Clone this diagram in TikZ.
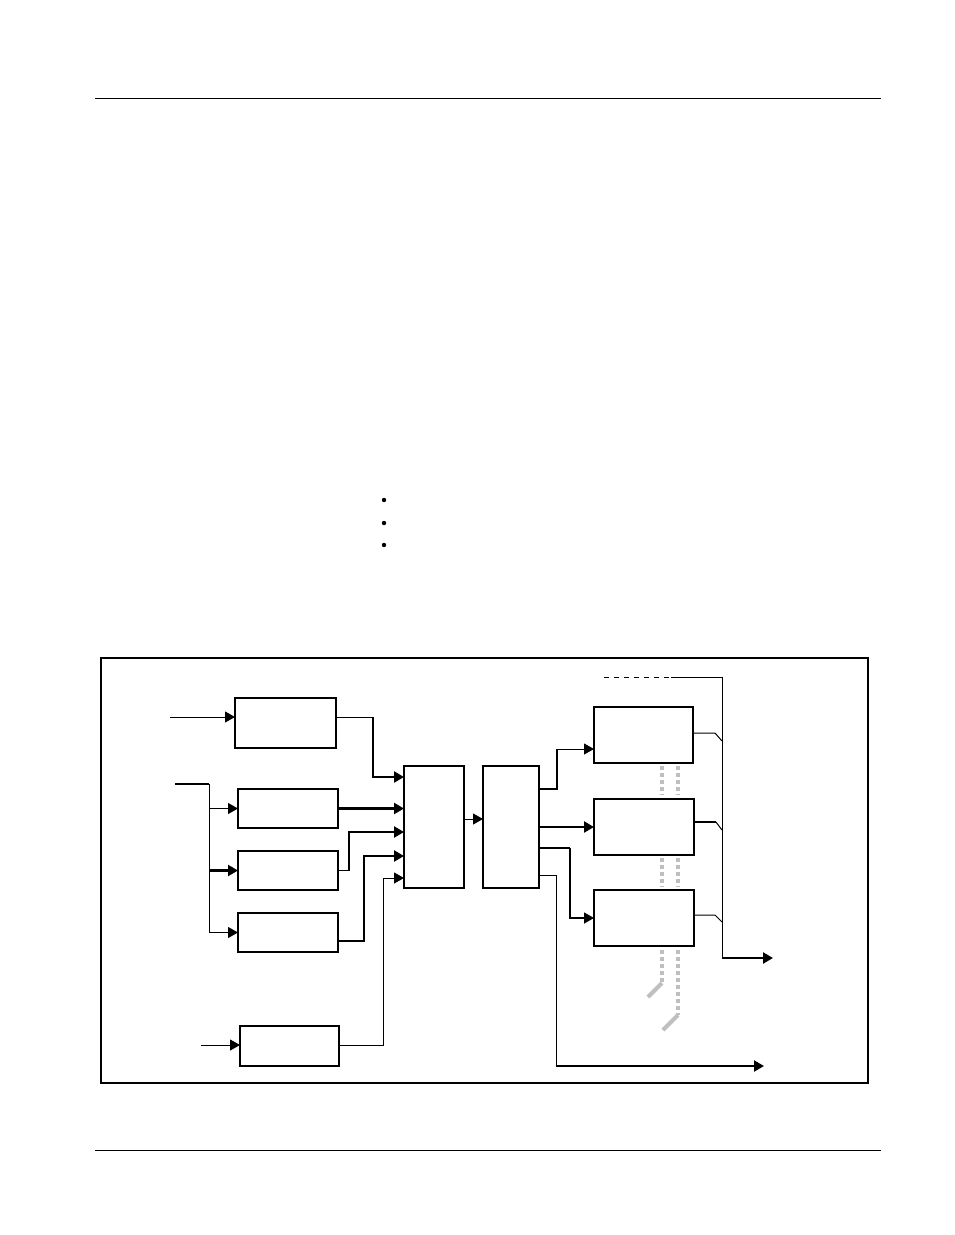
\documentclass[tikz,border=0pt]{standalone}
\usetikzlibrary{arrows.meta}
\begin{document}
\begin{tikzpicture}[x=1pt,y=-1pt,
 blk/.style={draw, line width=2pt, inner sep=0pt, outer sep=0pt, anchor=north west, fill=white},
 thinln/.style={line width=1pt},
 thkln/.style={line width=2.2pt},
 arr/.style={-{Triangle[length=10pt,width=11pt]}},
 graydash/.style={draw=black!25, line width=4pt, dash pattern=on 4pt off 3pt},
 graysolid/.style={draw=black!25, line width=4pt}
]
\useasboundingbox (0,0) rectangle (954,1235);
% page rules
\coordinate (hl) at (95,98); \coordinate (hr) at (881,98);
\coordinate (fl) at (95,1150); \coordinate (fr) at (881,1150);
\draw[line width=1pt] (hl) -- (hr);
\draw[line width=1pt] (fl) -- (fr);
% bullets
\fill (384,500) circle (2.2);
\fill (384,523) circle (2.2);
\fill (384,545) circle (2.2);
% frame
\draw[line width=1.4pt] (101,658) rectangle (868,1083);
% boxes
\node[blk, minimum width=101pt, minimum height=50pt] (A) at (235,698) {};
\node[blk, minimum width=100pt, minimum height=39pt] (B) at (238,789) {};
\node[blk, minimum width=100pt, minimum height=39pt] (C) at (238,851) {};
\node[blk, minimum width=100pt, minimum height=39pt] (D) at (238,913) {};
\node[blk, minimum width=99pt, minimum height=40pt] (E) at (240,1026) {};
\node[blk, minimum width=60pt, minimum height=122pt] (F) at (404,766) {};
\node[blk, line width=1.5pt, minimum width=56pt, minimum height=122pt] (G) at (483,766) {};
\node[blk, minimum width=99pt, minimum height=56pt] (H1) at (594,707) {};
\node[blk, minimum width=100pt, minimum height=56pt] (H2) at (594,799) {};
\node[blk, minimum width=100pt, minimum height=56pt] (H3) at (594,890) {};
% inputs
\coordinate (inA) at (170,717);
\draw[thinln,arr] (inA) -- (inA -| A.west);
\coordinate (inB) at (175,784);
\coordinate (busB) at (209,784);
\draw[thkln] (inB) -- (busB);
\draw[thinln] (busB) -- (busB |- D.west);
\draw[thinln,arr] (busB |- B.west) -- (B.west);
\draw[thkln,arr] (busB |- C.west) -- (C.west);
\draw[thinln,arr] (busB |- D.west) -- (D.west);
\coordinate (inE) at (201,1045);
\draw[thinln,arr] (inE) -- (inE -| E.west);
% into F
\coordinate (fA) at (373,777);
\draw[thinln] (A.east |- inA) -| (fA |- inA);
\draw[thkln,arr] (fA |- inA) -- (fA) -- (fA -| F.west);
\draw[thkln,arr] (B.east) -- (B.east -| F.west);
\coordinate (fC) at (349,832);
\draw[thinln] (C.east) -- (fC |- C.east);
\draw[thkln,arr] (fC |- C.east) -- (fC) -- (fC -| F.west);
\coordinate (oD) at (338,941);
\coordinate (fD) at (364,856);
\draw[thkln,arr] (oD) -| (fD) -- (fD -| F.west);
\coordinate (oE) at (339,1045);
\coordinate (fE) at (383,878);
\draw[thinln,arr] (oE) -| (fE) -- (fE -| F.west);
% F to G
\coordinate (fg) at (0,819);
\draw[thinln,arr] (F.east |- fg) -- (G.west |- fg);
% G outputs
\coordinate (g1) at (557,789);
\coordinate (h1in) at (0,749);
\draw[thkln] (G.east |- g1) -- (g1) -- (g1 |- h1in);
\draw[thinln,arr] (g1 |- h1in) -- (H1.west |- h1in);
\draw[thkln,arr] (G.east |- H2.west) -- (H2.west);
\coordinate (g3) at (570,848);
\draw[thkln] (G.east |- g3) -- (g3);
\draw[line width=1.4pt,arr] (g3) |- (H3.west);
\coordinate (g4) at (556,875);
\coordinate (out2) at (764,1066);
\draw[thinln] (G.east |- g4) -- (g4) -- (g4 |- out2);
\draw[thkln,arr] (g4 |- out2) -- (out2);
% bus
\coordinate (dashS) at (604,677);
\coordinate (dashE) at (671,677);
\coordinate (busT) at (722,677);
\coordinate (busE) at (722,958);
\coordinate (out1) at (773,958);
\draw[thinln, dash pattern=on 5pt off 5pt] (dashS) -- (dashE);
\draw[thinln] (dashE) -- (busT) -- (busE);
\draw[thkln,arr] (busE) -- (out1);
% H outputs to bus
\coordinate (k1) at (715,733); \coordinate (b1) at (722,741);
\coordinate (k2) at (716,822); \coordinate (b2) at (722,830);
\coordinate (k3) at (715,915); \coordinate (b3) at (722,922);
\draw[thinln] (H1.east |- k1) -- (k1) -- (b1);
\draw[line width=1.6pt] (H2.east |- k2) -- (k2);
\draw[thinln] (k2) -- (b2);
\draw[thinln] (H3.east |- k3) -- (k3) -- (b3);
% gray dashed links
\coordinate (p1) at (662,766); \coordinate (p2) at (662,795);
\coordinate (q1) at (678,766); \coordinate (q2) at (678,795);
\draw[graydash] (p1) -- (p2);
\draw[graydash] (q1) -- (q2);
\coordinate (p3) at (662,858); \coordinate (p4) at (662,887);
\coordinate (q3) at (678,858); \coordinate (q4) at (678,887);
\draw[graydash] (p3) -- (p4);
\draw[graydash] (q3) -- (q4);
\coordinate (p5) at (662,950); \coordinate (p6) at (662,983); \coordinate (p7) at (648,997);
\coordinate (q5) at (678,950); \coordinate (q6) at (678,1015); \coordinate (q7) at (663,1030);
\draw[graydash] (p5) -- (p6);
\draw[graysolid] (p6) -- (p7);
\draw[graydash] (q5) -- (q6);
\draw[graysolid] (q6) -- (q7);
\end{tikzpicture}
\end{document}
